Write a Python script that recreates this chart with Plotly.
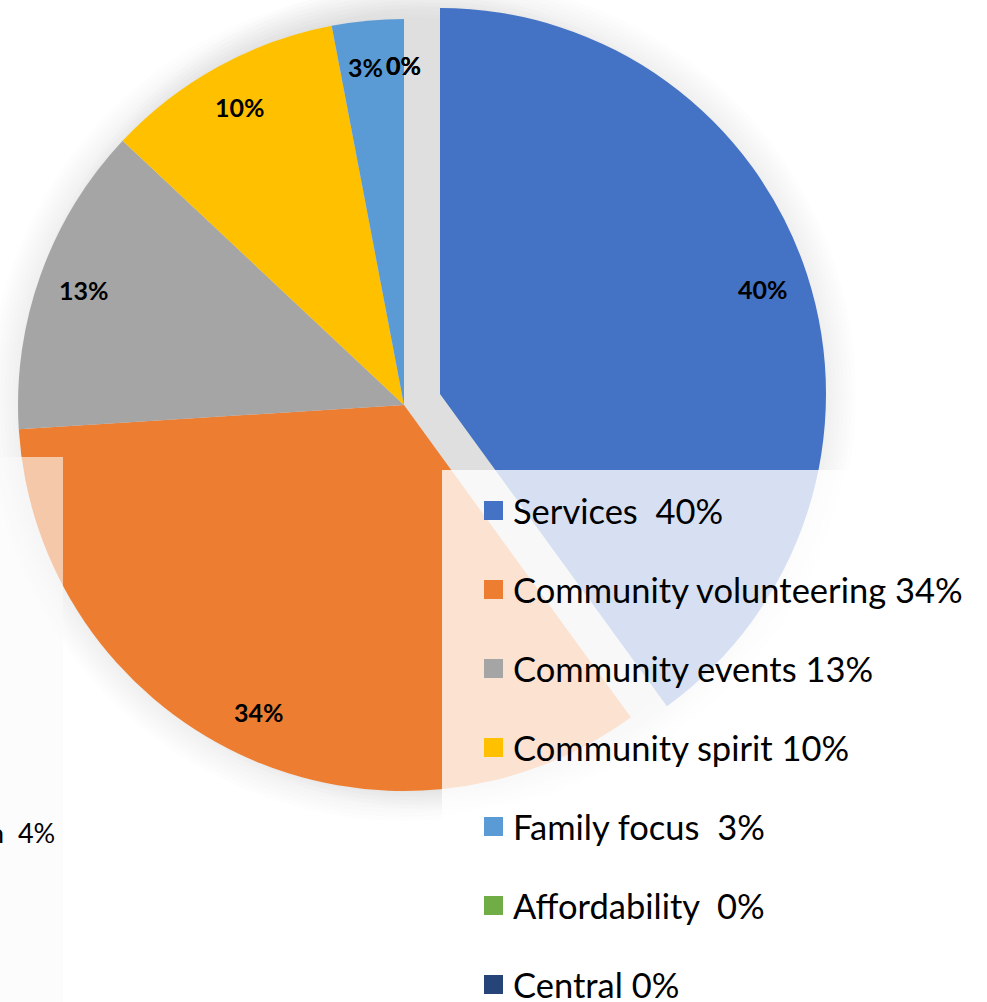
import math
import plotly.graph_objects as go

# ---------------- data ----------------
categories = ["Services", "Community volunteering", "Community events",
              "Community spirit", "Family focus", "Affordability", "Central"]
values = [40, 34, 13, 10, 3, 0, 0]
legend_texts = ["Services  40%", "Community volunteering 34%", "Community events 13%",
                "Community spirit 10%", "Family focus  3%", "Affordability  0%", "Central 0%"]
colors = ["#4472C4", "#ED7D31", "#A5A5A5", "#FFC000", "#5B9BD5", "#70AD47", "#264478"]
stray_text = "n  4%"

# ---------------- layout helpers ----------------
W, H = 987, 1002
R = 386
C1 = (404, 405)      # main pie centre (px)
C2 = (440, 394)      # exploded "Services" slice centre (px)


def px(x):
    return x / W


def py(y):
    return 1 - y / H


def dom(c):
    return dict(x=[px(c[0] - R), px(c[0] + R)], y=[py(c[1] + R), py(c[1] - R)])


clear = "rgba(0,0,0,0)"
col1 = [clear if i == 0 else c for i, c in enumerate(colors)]
col2 = [c if i == 0 else clear for i, c in enumerate(colors)]

fig = go.Figure()
for cols, c in ((col1, C1), (col2, C2)):
    fig.add_trace(go.Pie(
        labels=categories, values=values, sort=False, direction="clockwise",
        rotation=0, marker=dict(colors=cols, line=dict(width=0)),
        textinfo="none", hoverinfo="skip", showlegend=False, domain=dom(c)))

shapes = []
# soft shadow around the pie
for c in (C1, C2):
    for k in range(2, 34, 4):
        shapes.append(dict(type="circle", xref="paper", yref="paper", layer="below",
                           x0=px(c[0] - R - k), x1=px(c[0] + R + k),
                           y0=py(c[1] + R + k), y1=py(c[1] - R - k),
                           line=dict(width=0), fillcolor="rgba(0,0,0,0.008)"))

# translucent overlays (legend panel and a partial panel at left)
shapes.append(dict(type="rect", xref="paper", yref="paper", layer="above",
                   x0=px(442), x1=1, y0=0, y1=py(470), line=dict(width=0),
                   fillcolor="rgba(255,255,255,0.78)"))
shapes.append(dict(type="rect", xref="paper", yref="paper", layer="above",
                   x0=0, x1=px(63), y0=0, y1=py(457), line=dict(width=0),
                   fillcolor="rgba(250,250,250,0.6)"))

annotations = []
# percentage labels (inside end of each slice)
total = sum(values)
cum = 0
for i, v in enumerate(values):
    mid = (cum + v / 2) / total * 2 * math.pi
    cum += v
    c = C2 if i == 0 else C1
    rr = 0.88 * R
    x = c[0] + rr * math.sin(mid)
    y = c[1] - rr * math.cos(mid)
    if i == 4:
        x -= 7
    annotations.append(dict(x=px(x), y=py(y), xref="paper", yref="paper",
                            text=f"<b>{round(v / total * 100)}%</b>", showarrow=False,
                            font=dict(family="Lato", size=25, color="black"),
                            xanchor="center", yanchor="middle"))

# custom legend
row0, step = 510, 79
for i, (t, c) in enumerate(zip(legend_texts, colors)):
    y = row0 + i * step
    shapes.append(dict(type="rect", xref="paper", yref="paper", layer="above",
                       x0=px(484), x1=px(503), y0=py(y + 10), y1=py(y - 9),
                       line=dict(width=0), fillcolor=c))
    annotations.append(dict(x=px(511), y=py(y), xref="paper", yref="paper",
                            text=t, showarrow=False, xanchor="left", yanchor="middle",
                            font=dict(family="Lato", size=34.5, color="black")))

annotations.append(dict(x=px(57), y=py(832), xref="paper", yref="paper",
                        text=stray_text, showarrow=False, xanchor="right", yanchor="middle",
                        font=dict(family="Lato", size=27, color="black")))

fig.update_layout(width=W, height=H, margin=dict(l=0, r=0, t=0, b=0),
                  paper_bgcolor="white", plot_bgcolor="white",
                  shapes=shapes, annotations=annotations, showlegend=False)
fig.write_html("out.html")
